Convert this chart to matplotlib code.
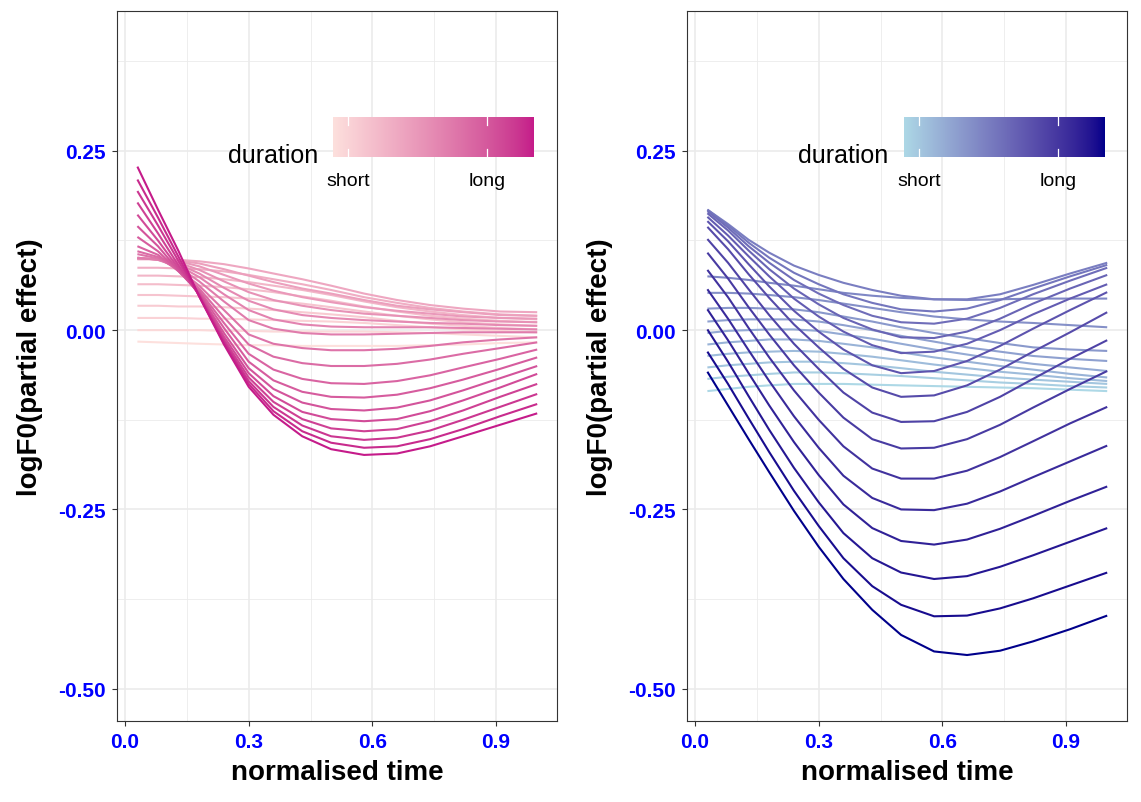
import numpy as np
import matplotlib
matplotlib.use("Agg")
import matplotlib.pyplot as plt

W, H, DPI = 1141, 803, 100
plt.rcParams['font.family'] = ['Liberation Sans', 'DejaVu Sans']

# ---------------- data ----------------
time = [0.03, 0.08, 0.13, 0.18, 0.24, 0.30, 0.36, 0.43, 0.50, 0.58, 0.66, 0.74, 0.82, 0.91, 1.00]

# left panel (pink), shortest -> longest duration
pink_curves = [
    [-0.016, -0.017, -0.018, -0.019, -0.020, -0.021, -0.021, -0.022, -0.022, -0.022, -0.022, -0.021, -0.020, -0.018, -0.017],
    [0.000, 0.000, 0.000, 0.000, -0.001, -0.001, -0.002, -0.002, -0.002, -0.002, -0.003, -0.004, -0.006, -0.008, -0.010],
    [0.017, 0.017, 0.017, 0.016, 0.016, 0.015, 0.014, 0.013, 0.012, 0.010, 0.007, 0.004, 0.001, -0.001, -0.003],
    [0.034, 0.034, 0.033, 0.033, 0.032, 0.030, 0.028, 0.025, 0.022, 0.018, 0.013, 0.009, 0.006, 0.003, 0.001],
    [0.049, 0.049, 0.048, 0.047, 0.046, 0.044, 0.041, 0.037, 0.032, 0.026, 0.020, 0.015, 0.011, 0.008, 0.006],
    [0.064, 0.064, 0.063, 0.062, 0.060, 0.057, 0.053, 0.047, 0.041, 0.033, 0.026, 0.020, 0.016, 0.013, 0.011],
    [0.076, 0.076, 0.075, 0.074, 0.071, 0.067, 0.062, 0.056, 0.049, 0.040, 0.032, 0.026, 0.021, 0.017, 0.015],
    [0.087, 0.087, 0.086, 0.085, 0.082, 0.077, 0.071, 0.064, 0.056, 0.046, 0.038, 0.031, 0.026, 0.022, 0.020],
    [0.099, 0.099, 0.098, 0.096, 0.092, 0.086, 0.079, 0.071, 0.062, 0.051, 0.042, 0.035, 0.030, 0.026, 0.025],
    [0.099, 0.099, 0.097, 0.093, 0.085, 0.076, 0.067, 0.058, 0.051, 0.042, 0.034, 0.029, 0.025, 0.021, 0.020],
    [0.100, 0.099, 0.096, 0.089, 0.077, 0.065, 0.055, 0.046, 0.039, 0.032, 0.027, 0.023, 0.019, 0.017, 0.016],
    [0.100, 0.099, 0.094, 0.084, 0.068, 0.053, 0.042, 0.034, 0.028, 0.023, 0.020, 0.017, 0.014, 0.012, 0.011],
    [0.100, 0.099, 0.092, 0.079, 0.059, 0.041, 0.029, 0.021, 0.017, 0.014, 0.012, 0.010, 0.009, 0.007, 0.006],
    [0.101, 0.098, 0.090, 0.074, 0.050, 0.028, 0.015, 0.008, 0.005, 0.004, 0.004, 0.004, 0.003, 0.002, 0.001],
    [0.101, 0.098, 0.088, 0.068, 0.040, 0.014, 0.002, -0.004, -0.006, -0.006, -0.005, -0.004, -0.003, -0.003, -0.003],
    [0.106, 0.100, 0.085, 0.062, 0.028, -0.006, -0.019, -0.025, -0.028, -0.028, -0.026, -0.022, -0.017, -0.013, -0.010],
    [0.110, 0.102, 0.083, 0.058, 0.018, -0.020, -0.037, -0.046, -0.050, -0.050, -0.047, -0.041, -0.033, -0.025, -0.017],
    [0.117, 0.105, 0.082, 0.055, 0.010, -0.033, -0.055, -0.068, -0.074, -0.075, -0.071, -0.063, -0.052, -0.040, -0.027],
    [0.130, 0.110, 0.082, 0.053, 0.003, -0.044, -0.070, -0.086, -0.093, -0.094, -0.090, -0.081, -0.069, -0.054, -0.038],
    [0.145, 0.117, 0.083, 0.051, -0.004, -0.053, -0.082, -0.101, -0.110, -0.112, -0.108, -0.098, -0.084, -0.067, -0.050],
    [0.161, 0.125, 0.086, 0.050, -0.009, -0.060, -0.092, -0.114, -0.124, -0.127, -0.124, -0.113, -0.098, -0.080, -0.061],
    [0.178, 0.135, 0.090, 0.049, -0.013, -0.066, -0.100, -0.124, -0.137, -0.141, -0.138, -0.127, -0.112, -0.093, -0.075],
    [0.194, 0.146, 0.096, 0.048, -0.016, -0.071, -0.107, -0.133, -0.148, -0.153, -0.150, -0.140, -0.125, -0.107, -0.089],
    [0.210, 0.157, 0.102, 0.047, -0.018, -0.075, -0.113, -0.141, -0.157, -0.164, -0.162, -0.152, -0.138, -0.120, -0.103],
    [0.228, 0.168, 0.110, 0.047, -0.020, -0.079, -0.118, -0.148, -0.166, -0.174, -0.172, -0.162, -0.148, -0.132, -0.116],
]

# right panel (blue), shortest -> longest duration
blue_curves = [
    [-0.085, -0.082, -0.079, -0.077, -0.075, -0.075, -0.075, -0.076, -0.077, -0.078, -0.079, -0.080, -0.081, -0.083, -0.085],
    [-0.068, -0.065, -0.063, -0.061, -0.059, -0.059, -0.060, -0.062, -0.064, -0.067, -0.070, -0.073, -0.075, -0.078, -0.080],
    [-0.052, -0.049, -0.047, -0.045, -0.044, -0.044, -0.046, -0.049, -0.053, -0.058, -0.062, -0.066, -0.069, -0.072, -0.075],
    [-0.036, -0.033, -0.031, -0.030, -0.029, -0.030, -0.033, -0.037, -0.042, -0.048, -0.053, -0.058, -0.062, -0.067, -0.071],
    [-0.020, -0.017, -0.015, -0.013, -0.013, -0.015, -0.019, -0.024, -0.031, -0.038, -0.044, -0.050, -0.055, -0.061, -0.066],
    [-0.004, -0.001, 0.000, 0.001, 0.001, -0.001, -0.006, -0.012, -0.019, -0.027, -0.034, -0.041, -0.047, -0.052, -0.057],
    [0.012, 0.014, 0.015, 0.015, 0.015, 0.012, 0.007, 0.000, -0.008, -0.016, -0.024, -0.030, -0.036, -0.040, -0.043],
    [0.030, 0.031, 0.031, 0.030, 0.029, 0.025, 0.019, 0.012, 0.004, -0.004, -0.011, -0.018, -0.024, -0.027, -0.029],
    [0.052, 0.052, 0.051, 0.049, 0.046, 0.042, 0.037, 0.031, 0.025, 0.019, 0.015, 0.012, 0.010, 0.007, 0.004],
    [0.075, 0.073, 0.070, 0.066, 0.062, 0.057, 0.052, 0.048, 0.045, 0.043, 0.042, 0.043, 0.044, 0.044, 0.044],
    [0.168, 0.148, 0.126, 0.108, 0.090, 0.077, 0.066, 0.056, 0.048, 0.043, 0.043, 0.050, 0.063, 0.079, 0.094],
    [0.168, 0.146, 0.122, 0.101, 0.080, 0.064, 0.050, 0.038, 0.029, 0.026, 0.030, 0.042, 0.058, 0.075, 0.091],
    [0.166, 0.143, 0.117, 0.094, 0.070, 0.051, 0.035, 0.020, 0.011, 0.009, 0.016, 0.031, 0.050, 0.069, 0.087],
    [0.163, 0.139, 0.111, 0.085, 0.058, 0.036, 0.017, 0.001, -0.010, -0.011, -0.002, 0.016, 0.037, 0.058, 0.077],
    [0.158, 0.132, 0.103, 0.075, 0.044, 0.019, -0.002, -0.021, -0.032, -0.030, -0.019, 0.000, 0.022, 0.044, 0.064],
    [0.152, 0.124, 0.092, 0.061, 0.027, -0.002, -0.027, -0.049, -0.060, -0.057, -0.043, -0.022, 0.002, 0.028, 0.053],
    [0.144, 0.113, 0.078, 0.045, 0.008, -0.024, -0.054, -0.080, -0.093, -0.091, -0.077, -0.055, -0.030, -0.003, 0.025],
    [0.127, 0.094, 0.057, 0.021, -0.019, -0.054, -0.087, -0.115, -0.128, -0.127, -0.114, -0.093, -0.068, -0.040, -0.014],
    [0.108, 0.072, 0.032, -0.006, -0.049, -0.087, -0.122, -0.152, -0.165, -0.164, -0.152, -0.132, -0.108, -0.082, -0.057],
    [0.084, 0.046, 0.003, -0.038, -0.084, -0.125, -0.162, -0.193, -0.207, -0.207, -0.196, -0.177, -0.155, -0.130, -0.107],
    [0.057, 0.016, -0.028, -0.071, -0.120, -0.164, -0.203, -0.234, -0.250, -0.251, -0.242, -0.225, -0.205, -0.183, -0.161],
    [0.029, -0.014, -0.060, -0.105, -0.156, -0.202, -0.243, -0.276, -0.294, -0.299, -0.292, -0.277, -0.259, -0.238, -0.218],
    [0.001, -0.044, -0.092, -0.139, -0.192, -0.240, -0.283, -0.318, -0.338, -0.347, -0.343, -0.330, -0.314, -0.295, -0.276],
    [-0.030, -0.075, -0.123, -0.170, -0.224, -0.273, -0.318, -0.357, -0.383, -0.399, -0.398, -0.388, -0.374, -0.356, -0.338],
    [-0.058, -0.105, -0.152, -0.198, -0.252, -0.302, -0.347, -0.390, -0.425, -0.448, -0.453, -0.447, -0.434, -0.417, -0.398],
]

x_ticks = [0.0, 0.3, 0.6, 0.9]
x_ticklabels = ["0.0", "0.3", "0.6", "0.9"]
y_ticks = [-0.50, -0.25, 0.00, 0.25]
y_ticklabels = ["-0.50", "-0.25", "0.00", "0.25"]
legend_labels = ["short", "long"]
legend_label_pos = [0.076, 0.765]   # position along the colour bar
pink_low, pink_high = "#FDE0DD", "#C51B8A"
blue_low, blue_high = "#ADD8E6", "#00008B"

# ---------------- colour ramp in CIELAB (as ggplot) ----------------
_M = np.array([[0.4124564, 0.3575761, 0.1804375],
               [0.2126729, 0.7151522, 0.0721750],
               [0.0193339, 0.1191920, 0.9503041]])
_WP = np.array([0.95047, 1.0, 1.08883])
_D = 6 / 29


def hex_rgb(h):
    return np.array([int(h[i:i + 2], 16) for i in (1, 3, 5)]) / 255.0


def rgb_lab(rgb):
    c = np.where(rgb <= 0.04045, rgb / 12.92, ((rgb + 0.055) / 1.055) ** 2.4)
    xyz = _M @ c / _WP
    f = np.where(xyz > _D ** 3, np.cbrt(xyz), xyz / (3 * _D * _D) + 4 / 29)
    return np.array([116 * f[1] - 16, 500 * (f[0] - f[1]), 200 * (f[1] - f[2])])


def lab_rgb(lab):
    L, a, b = lab
    fy = (L + 16) / 116
    f = np.array([fy + a / 500, fy, fy - b / 200])
    xyz = np.where(f > _D, f ** 3, 3 * _D * _D * (f - 4 / 29)) * _WP
    c = np.clip(np.linalg.inv(_M) @ xyz, 0, 1)
    rgb = np.where(c <= 0.0031308, 12.92 * c, 1.055 * c ** (1 / 2.4) - 0.055)
    return np.clip(rgb, 0, 1)


def ramp(lo, hi, frac):
    a, b = rgb_lab(hex_rgb(lo)), rgb_lab(hex_rgb(hi))
    return lab_rgb((1 - frac) * a + frac * b)


# ---------------- figure ----------------
fig = plt.figure(figsize=(W / DPI, H / DPI), dpi=DPI)


def px_box(x0, y0, x1, y1):
    return [x0 / W, 1 - y1 / H, (x1 - x0) / W, (y1 - y0) / H]


def draw_panel(rect, curves, lo, hi, bar_rect, title_x, ylab_x, xlab_x):
    ax = fig.add_axes(px_box(*rect))
    n = len(curves)
    for i, ys in enumerate(curves):
        ax.plot(time, ys, color=ramp(lo, hi, i / (n - 1)), lw=1.5,
                solid_capstyle='butt', solid_joinstyle='round', zorder=3)
    ax.set_xlim(-0.0185, 1.0485)
    ax.set_ylim(-0.545, 0.445)
    ax.set_xticks(x_ticks)
    ax.set_xticklabels(x_ticklabels)
    ax.set_yticks(y_ticks)
    ax.set_yticklabels(y_ticklabels)
    ax.set_xticks([0.15, 0.45, 0.75], minor=True)
    ax.set_yticks([-0.375, -0.125, 0.125, 0.375], minor=True)
    ax.grid(which='major', color='#EBEBEB', lw=1.2, zorder=0)
    ax.grid(which='minor', color='#EBEBEB', lw=0.6, zorder=0)
    ax.set_axisbelow(True)
    ax.tick_params(which='minor', length=0)
    ax.tick_params(which='major', length=3.6, width=0.8, color='#333333',
                   labelcolor='#0000FF', labelsize=15, pad=4.5)
    for lab in ax.get_xticklabels() + ax.get_yticklabels():
        lab.set_fontweight('bold')
    for s in ax.spines.values():
        s.set_color('#333333')
        s.set_linewidth(0.8)
    # axis titles
    fig.text(xlab_x / W, 1 - 773 / H, "normalised time", ha='center', va='center',
             fontsize=20, fontweight='bold')
    fig.text(ylab_x / W, 1 - 367 / H, "logF0(partial effect)", ha='center', va='center',
             rotation=90, fontsize=20, fontweight='bold')
    # colour bar legend
    bax = fig.add_axes(px_box(*bar_rect))
    grad = np.array([ramp(lo, hi, f) for f in np.linspace(0, 1, 256)])[None, :, :]
    bax.imshow(grad, aspect='auto', extent=[0, 1, 0, 1], interpolation='bilinear')
    for p in legend_label_pos:
        bax.plot([p, p], [0, 0.2], color='white', lw=0.9)
        bax.plot([p, p], [0.8, 1], color='white', lw=0.9)
    bax.set_xlim(0, 1)
    bax.set_ylim(0, 1)
    bax.axis('off')
    bx0, by0, bx1, by1 = bar_rect
    for p, t in zip(legend_label_pos, legend_labels):
        fig.text((bx0 + p * (bx1 - bx0)) / W, 1 - 181 / H, t, ha='center', va='center',
                 fontsize=14)
    fig.text(title_x / W, 1 - 156 / H, "duration", ha='right', va='center', fontsize=18)
    return ax


draw_panel((117.4, 12, 557.2, 722), pink_curves, pink_low, pink_high,
           (333, 118, 534, 158), 318, 30, 337)
draw_panel((687.4, 12, 1127.2, 722), blue_curves, blue_low, blue_high,
           (904, 118, 1105, 158), 888, 600, 907)

fig.savefig("out.png", dpi=DPI)
